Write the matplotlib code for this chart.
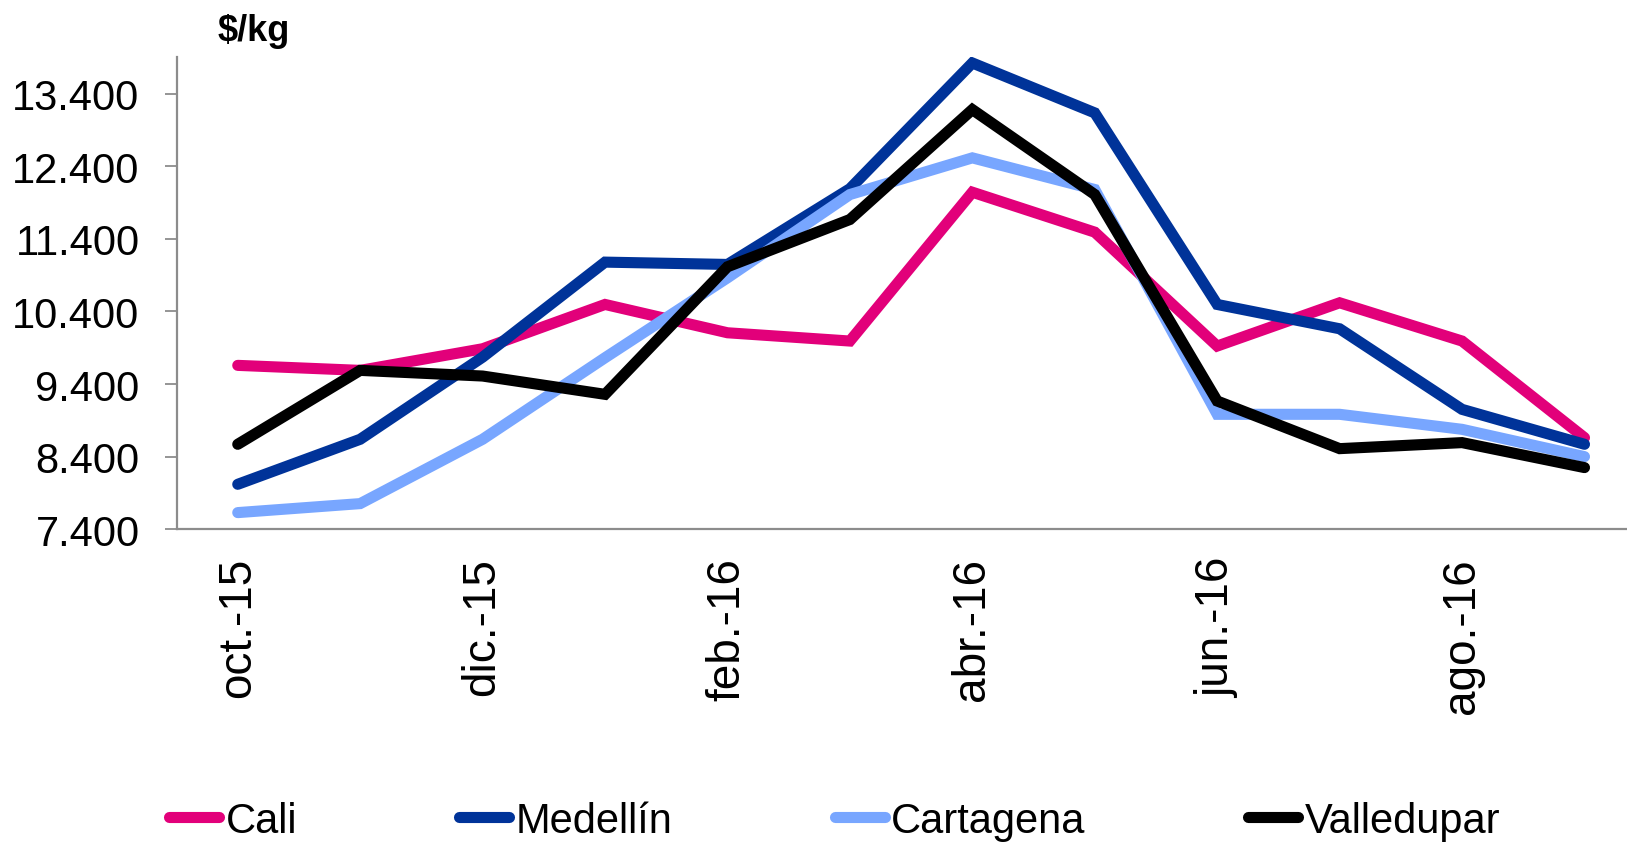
import matplotlib
matplotlib.use("Agg")
import matplotlib.pyplot as plt
from matplotlib.ticker import FuncFormatter

# Precio mayorista mensual ($/kg), oct-15 a sep-16
months = ["oct.-15", "nov.-15", "dic.-15", "ene.-16", "feb.-16", "mar.-16",
          "abr.-16", "may.-16", "jun.-16", "jul.-16", "ago.-16", "sep.-16"]

cali = [9657, 9588, 9886, 10496, 10106, 9992, 12042, 11492, 9923, 10519, 9992, 8661]
medellin = [8019, 8639, 9770, 11079, 11047, 12090, 13822, 13134, 10496, 10161, 9051, 8570]
cartagena = [7629, 7753, 8639, 9762, 10863, 12010, 12515, 12079, 8983, 8983, 8776, 8400]
valledupar = [8570, 9588, 9510, 9258, 11015, 11666, 13180, 12010, 9166, 8510, 8593, 8249]

series = [
    ("Cali", cali, "#E2007A"),
    ("Medellín", medellin, "#003399"),
    ("Cartagena", cartagena, "#78A6FF"),
    ("Valledupar", valledupar, "#000000"),
]

plt.rcParams["font.family"] = ["Liberation Sans", "DejaVu Sans"]

fig = plt.figure(figsize=(16.27, 8.45), dpi=100)
# the category axis runs off the right edge of the figure, as in the original
ax = fig.add_axes([0.1085, 0.3725, 0.903, 0.5585])

x = list(range(len(months)))
for name, vals, color in series:
    ax.plot(x, vals, color=color, lw=8, label=name,
            solid_capstyle="round", solid_joinstyle="miter")

ax.set_xlim(-0.5, len(months) - 0.5)
ax.set_ylim(7400, 13900)
ax.set_yticks(range(7400, 13401, 1000))
ax.yaxis.set_major_formatter(FuncFormatter(lambda v, p: f"{int(v):,}".replace(",", ".")))

ax.set_xticks(x[::2])
ax.set_xticklabels(months[::2], rotation=90, fontsize=33)

for side in ["top", "right"]:
    ax.spines[side].set_visible(False)
for side in ["left", "bottom"]:
    ax.spines[side].set_color("#8c8c8c")
    ax.spines[side].set_linewidth(1.6)

ax.tick_params(axis="y", length=8.6, width=1.3, color="#8c8c8c",
               labelsize=30, pad=18)
ax.tick_params(axis="x", length=0, pad=20)

fig.text(218 / 1627, 0.963, "$/kg", fontsize=26, fontweight="bold",
         ha="left", va="center")

fig.legend(loc="center", bbox_to_anchor=(0.513, 1 - 822 / 845), ncol=4,
           frameon=False, fontsize=30, handlelength=1.2, handletextpad=0.15,
           columnspacing=3.9, borderaxespad=0)

fig.savefig("out.png", dpi=100)
